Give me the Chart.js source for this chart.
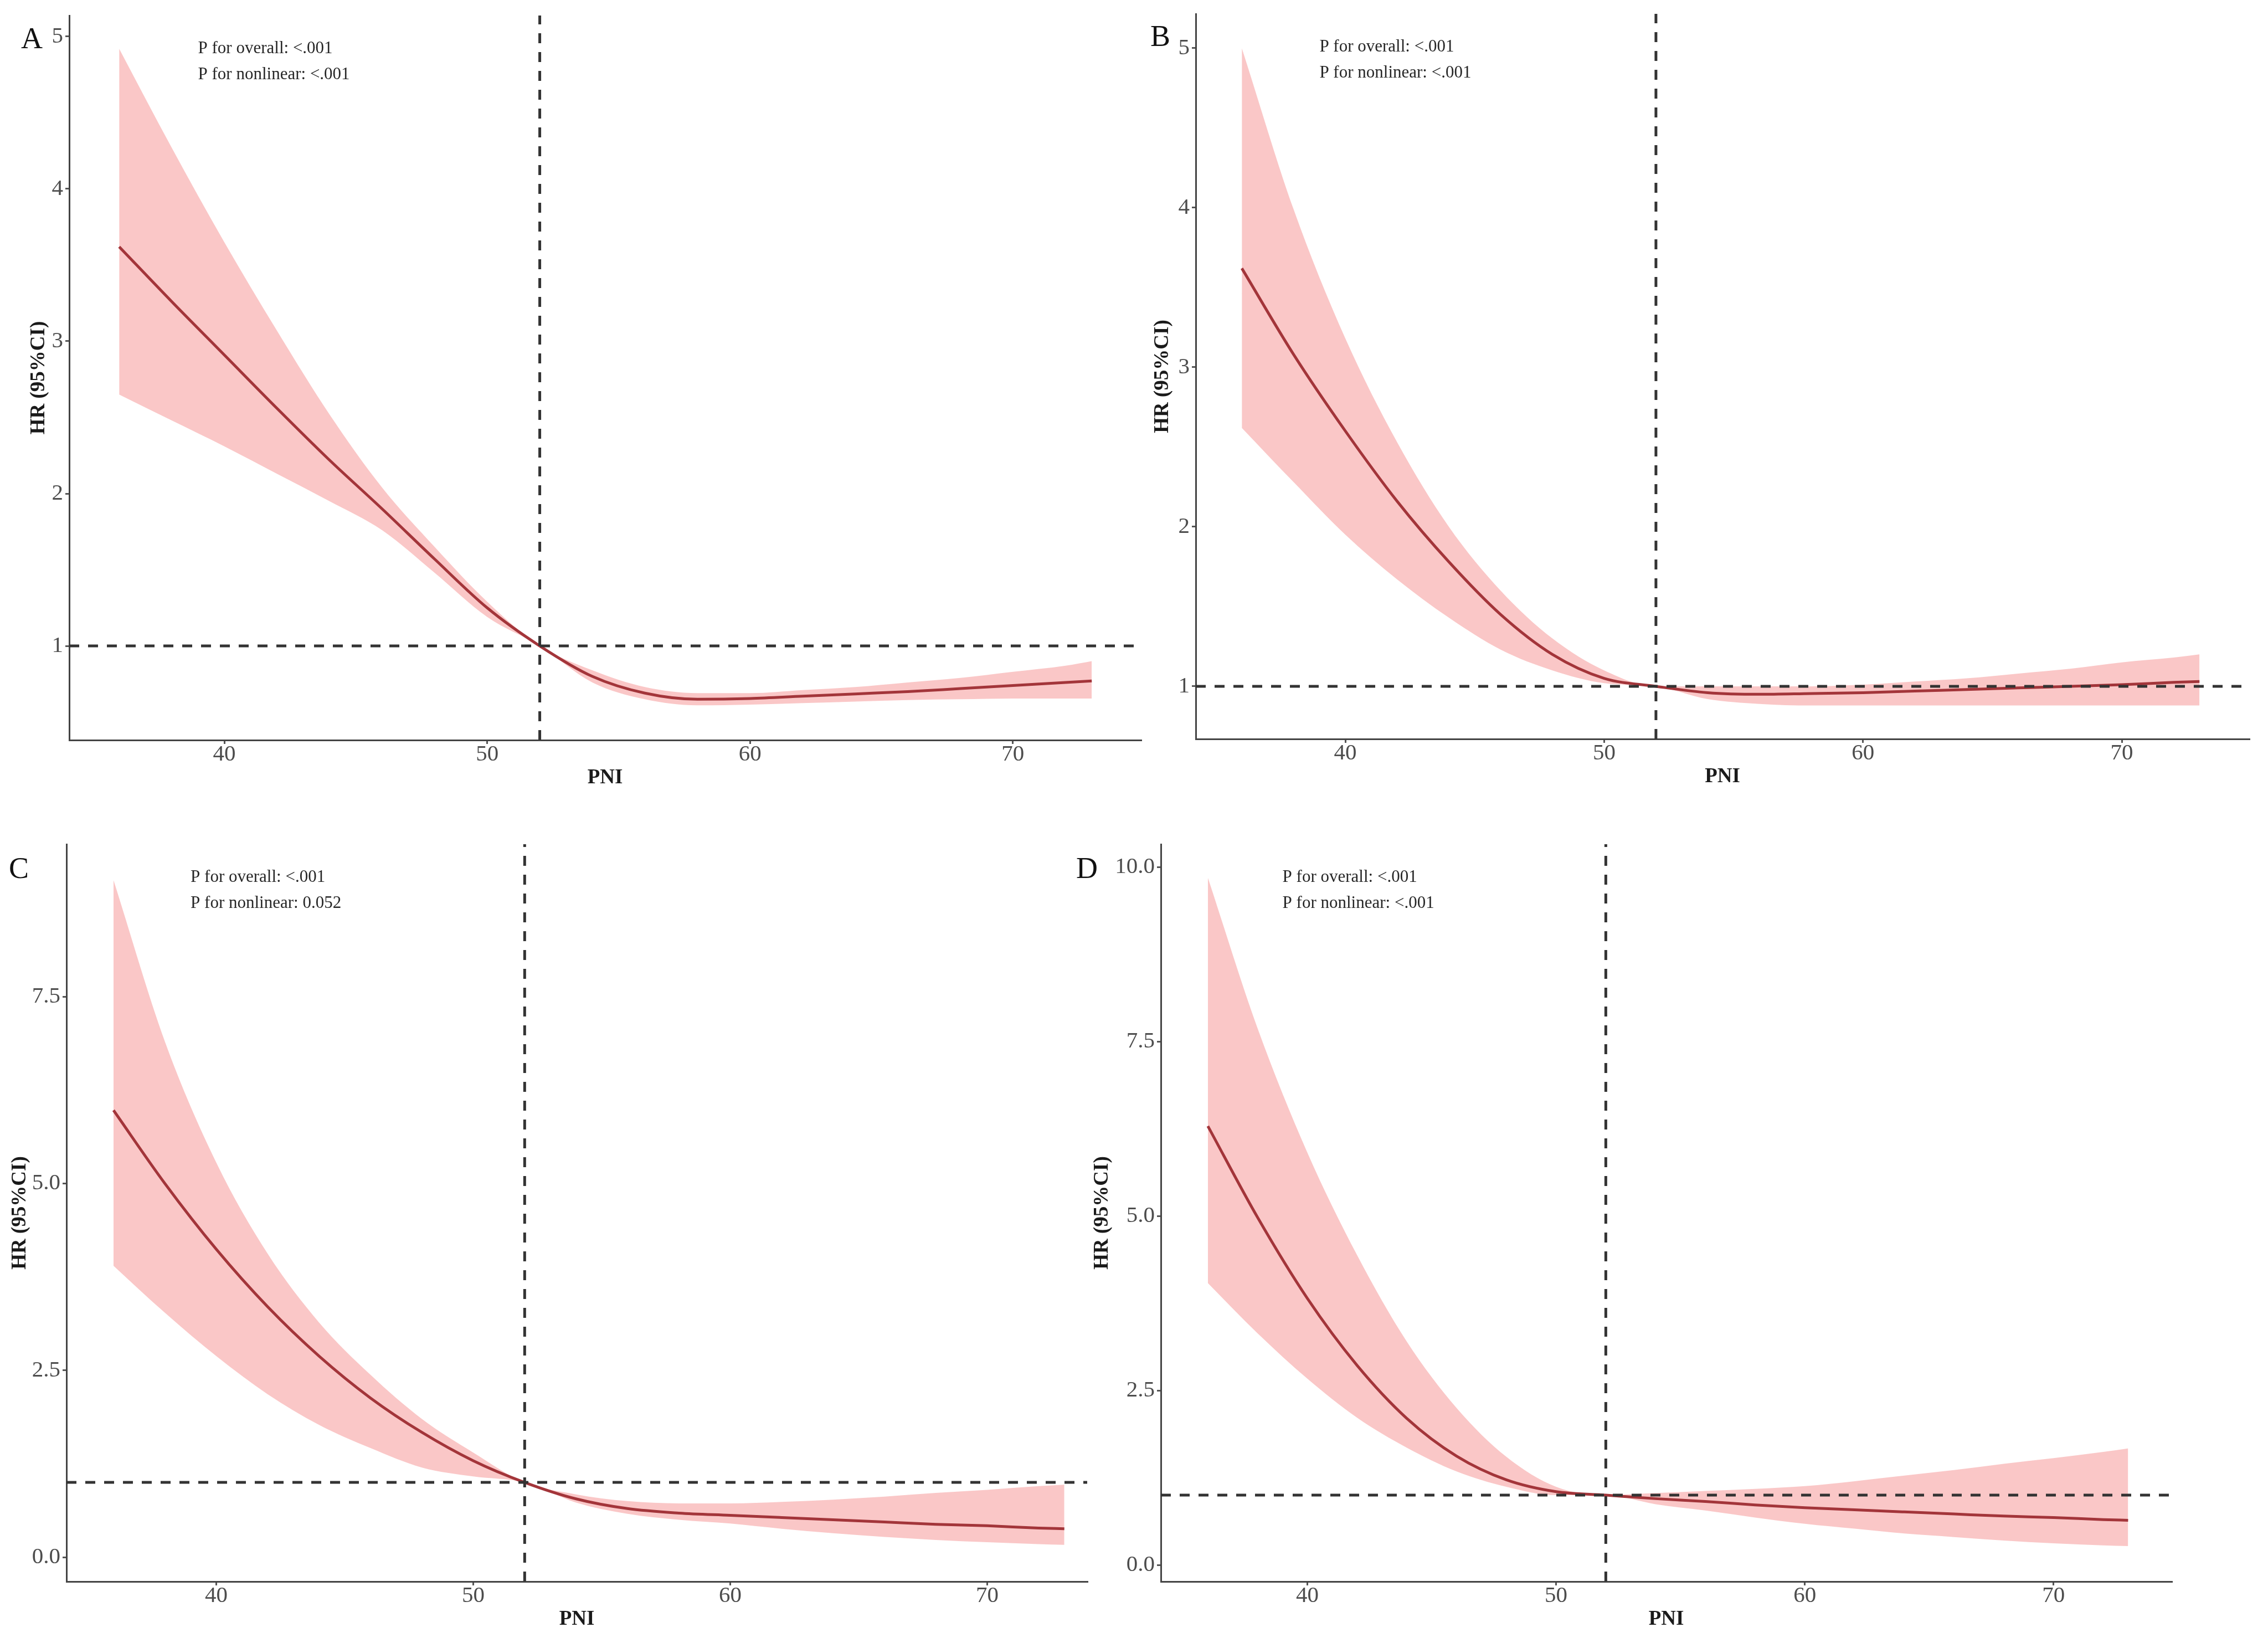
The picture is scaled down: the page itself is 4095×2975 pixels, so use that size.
<!DOCTYPE html>
<html>
<head>
<meta charset="utf-8">
<script src="https://cdn.jsdelivr.net/npm/chart.js@4.4.1/dist/chart.umd.min.js"></script>
<style>
  html, body { margin:0; padding:0; background:#fff; width:4095px; height:2975px; overflow:hidden; position:relative; }
  canvas { position:absolute; }
</style>
</head>
<body>
<canvas id="cA"></canvas>
<canvas id="cB"></canvas>
<canvas id="cC"></canvas>
<canvas id="cD"></canvas>
<script>
// ---------- data ----------
const pni = [36, 38, 40, 42, 44, 46, 48, 50, 52, 54, 56, 58, 60, 62, 64, 66, 68, 70, 72, 73];

const hrA    = [3.62, 3.26, 2.91, 2.56, 2.22, 1.90, 1.57, 1.25, 1.00, 0.80, 0.69, 0.65, 0.655, 0.67, 0.685, 0.70, 0.72, 0.74, 0.76, 0.77];
const upperA = [4.92, 4.27, 3.65, 3.07, 2.52, 2.04, 1.65, 1.29, 1.00, 0.84, 0.73, 0.69, 0.69, 0.71, 0.73, 0.76, 0.79, 0.83, 0.87, 0.90];
const lowerA = [2.65, 2.48, 2.31, 2.13, 1.95, 1.76, 1.48, 1.19, 1.00, 0.76, 0.65, 0.61, 0.615, 0.625, 0.635, 0.645, 0.65, 0.655, 0.655, 0.655];

const hrB    = [3.62, 3.08, 2.60, 2.16, 1.78, 1.45, 1.20, 1.05, 1.00, 0.96, 0.95, 0.955, 0.96, 0.97, 0.98, 0.99, 1.00, 1.01, 1.025, 1.03];
const upperB = [5.00, 3.99, 3.18, 2.53, 2.00, 1.60, 1.30, 1.10, 1.00, 1.00, 1.00, 1.00, 1.01, 1.03, 1.05, 1.08, 1.11, 1.15, 1.18, 1.20];
const lowerB = [2.62, 2.28, 1.95, 1.67, 1.43, 1.23, 1.10, 1.02, 1.00, 0.92, 0.89, 0.88, 0.88, 0.88, 0.88, 0.88, 0.88, 0.88, 0.88, 0.88];

const hrC    = [5.98, 5.00, 4.12, 3.35, 2.69, 2.13, 1.67, 1.29, 1.00, 0.78, 0.65, 0.59, 0.56, 0.53, 0.50, 0.47, 0.44, 0.42, 0.39, 0.38];
const upperC = [9.06, 6.90, 5.28, 4.06, 3.14, 2.44, 1.85, 1.40, 1.00, 0.84, 0.75, 0.72, 0.72, 0.74, 0.77, 0.81, 0.86, 0.90, 0.95, 0.97];
const lowerC = [3.90, 3.27, 2.69, 2.18, 1.77, 1.46, 1.20, 1.08, 1.00, 0.73, 0.58, 0.50, 0.45, 0.38, 0.32, 0.27, 0.23, 0.20, 0.175, 0.165];

const hrD    = [6.29, 4.98, 3.82, 2.86, 2.10, 1.56, 1.22, 1.05, 1.00, 0.95, 0.91, 0.86, 0.82, 0.79, 0.76, 0.73, 0.70, 0.68, 0.65, 0.64];
const upperD = [9.85, 7.69, 5.91, 4.44, 3.20, 2.25, 1.55, 1.12, 1.00, 1.03, 1.06, 1.09, 1.13, 1.20, 1.28, 1.36, 1.45, 1.53, 1.62, 1.67];
const lowerD = [4.04, 3.32, 2.67, 2.11, 1.68, 1.34, 1.12, 1.00, 1.00, 0.87, 0.78, 0.68, 0.59, 0.52, 0.45, 0.40, 0.35, 0.31, 0.28, 0.27];

const refPNI = 52;       // vertical reference line
const refHR = 1;         // horizontal reference line
const noteX = 39;        // annotation anchor (PNI)

const xTicks = [40, 50, 60, 70];
const xTickLabels = ['40', '50', '60', '70'];
const yTicksAB = [1, 2, 3, 4, 5];
const yTickLabelsAB = ['1', '2', '3', '4', '5'];
const yTicksC = [0, 2.5, 5, 7.5];
const yTickLabelsC = ['0.0', '2.5', '5.0', '7.5'];
const yTicksD = [0, 2.5, 5, 7.5, 10];
const yTickLabelsD = ['0.0', '2.5', '5.0', '7.5', '10.0'];

const notesA = ['P for overall: <.001', 'P for nonlinear: <.001'];
const notesB = ['P for overall: <.001', 'P for nonlinear: <.001'];
const notesC = ['P for overall: <.001', 'P for nonlinear: 0.052'];
const notesD = ['P for overall: <.001', 'P for nonlinear: <.001'];

const xTitle = 'PNI';
const yTitle = 'HR (95%CI)';

// ---------- layout ----------
const WY = 170, PAD_T = 40, PAD_R = 10, HX = 100;
const panels = [
  { id:'cA', letter:'A', hr:hrA, up:upperA, lo:lowerA, yT:yTicksAB, yL:yTickLabelsAB, notes:notesA,
    plot:{l:125, r:2060, t:28, b:1336}, x:[34.1, 74.87], y:[0.382, 5.138], titleOff:55, letterOff:[-87, 59] },
  { id:'cB', letter:'B', hr:hrB, up:upperB, lo:lowerB, yT:yTicksAB, yL:yTickLabelsAB, notes:notesB,
    plot:{l:2159, r:4061, t:25, b:1334}, x:[34.22, 74.92], y:[0.670, 5.215], titleOff:60, letterOff:[-82, 58] },
  { id:'cC', letter:'C', hr:hrC, up:upperC, lo:lowerC, yT:yTicksC, yL:yTickLabelsC, notes:notesC,
    plot:{l:120, r:1963, t:1524, b:2855}, x:[34.17, 73.89], y:[-0.326, 9.54], titleOff:84, letterOff:[-104, 61] },
  { id:'cD', letter:'D', hr:hrD, up:upperD, lo:lowerD, yT:yTicksD, yL:yTickLabelsD, notes:notesD,
    plot:{l:2096, r:3921, t:1524, b:2855}, x:[34.11, 74.75], y:[-0.238, 10.33], titleOff:106, letterOff:[-153, 61] }
];

const SERIF = '"Liberation Serif", "Times New Roman", serif';
const pts = (arr) => pni.map((x, i) => ({ x: x, y: arr[i] }));

panels.forEach(p => {
  const cv = document.getElementById(p.id);
  const w = p.plot.r - p.plot.l + WY + PAD_R;
  const h = p.plot.b - p.plot.t + PAD_T + HX;
  cv.width = w; cv.height = h;
  cv.style.left = (p.plot.l - WY) + 'px';
  cv.style.top = (p.plot.t - PAD_T) + 'px';
  cv.style.width = w + 'px'; cv.style.height = h + 'px';

  const annPlugin = {
    id: 'ann' + p.letter,
    afterDraw(chart) {
      const ctx = chart.ctx, ca = chart.chartArea, xs = chart.scales.x;
      ctx.save();
      ctx.fillStyle = '#111';
      ctx.font = '54px ' + SERIF;
      ctx.textAlign = 'left';
      ctx.textBaseline = 'alphabetic';
      ctx.fillText(p.letter, ca.left + p.letterOff[0], ca.top + p.letterOff[1]);
      ctx.font = '31px ' + SERIF;
      ctx.fillStyle = '#262626';
      ctx.textBaseline = 'middle';
      p.notes.forEach((t, i) => ctx.fillText(t, xs.getPixelForValue(noteX), ca.top + 60 + i * 47));
      ctx.restore();
    }
  };

  new Chart(cv, {
    type: 'line',
    data: {
      datasets: [
        { label:'ref-h', data:[{x:p.x[0], y:refHR}, {x:p.x[1], y:refHR}], borderColor:'#333', borderWidth:5,
          borderDash:[18, 16], pointRadius:0, fill:false, tension:0 },
        { label:'ref-v', data:[{x:refPNI, y:p.y[0]}, {x:refPNI, y:p.y[1]}], borderColor:'#333', borderWidth:5,
          borderDash:[18, 16], pointRadius:0, fill:false, tension:0 },
        { label:'HR', data:pts(p.hr), borderColor:'#A3353A', borderWidth:5, pointRadius:0, fill:false,
          cubicInterpolationMode:'monotone' },
        { label:'upper', data:pts(p.up), borderColor:'rgba(0,0,0,0)', borderWidth:0, pointRadius:0,
          backgroundColor:'rgba(240,100,100,0.36)', fill:'+1', cubicInterpolationMode:'monotone' },
        { label:'lower', data:pts(p.lo), borderColor:'rgba(0,0,0,0)', borderWidth:0, pointRadius:0,
          fill:false, cubicInterpolationMode:'monotone' }
      ]
    },
    options: {
      responsive:false, animation:false, devicePixelRatio:1,
      layout:{ padding:{ left:0, right:PAD_R, top:PAD_T, bottom:0 } },
      plugins:{ legend:{display:false}, tooltip:{enabled:false} },
      scales:{
        x:{
          type:'linear', min:p.x[0], max:p.x[1],
          afterBuildTicks:(s) => { s.ticks = xTicks.map(v => ({value:v})); },
          afterFit:(s) => { s.height = HX; },
          ticks:{ font:{family:SERIF, size:41}, color:'#4d4d4d', padding:-5, maxRotation:0, autoSkip:false,
                  callback:(v, i) => xTickLabels[i] },
          grid:{ display:true, drawOnChartArea:false, drawTicks:true, tickLength:7, color:'#555', lineWidth:3 },
          border:{ display:true, color:'#444', width:3 },
          title:{ display:true, text:xTitle, color:'#1a1a1a', font:{family:SERIF, size:37, weight:'bold'},
                  padding:{top:0, bottom:9} }
        },
        y:{
          type:'linear', min:p.y[0], max:p.y[1],
          afterBuildTicks:(s) => { s.ticks = p.yT.map(v => ({value:v})); },
          afterFit:(s) => { s.width = WY; },
          ticks:{ font:{family:SERIF, size:41}, color:'#4d4d4d', padding:4, autoSkip:false,
                  callback:(v, i) => p.yL[i] },
          grid:{ display:true, drawOnChartArea:false, drawTicks:true, tickLength:7, color:'#555', lineWidth:3 },
          border:{ display:true, color:'#444', width:3 },
          title:{ display:true, text:yTitle, color:'#1a1a1a', font:{family:SERIF, size:37, weight:'bold'},
                  padding:{top: WY - p.titleOff - 22.2, bottom:0} }
        }
      }
    },
    plugins:[annPlugin]
  });
});
</script>
</body>
</html>
